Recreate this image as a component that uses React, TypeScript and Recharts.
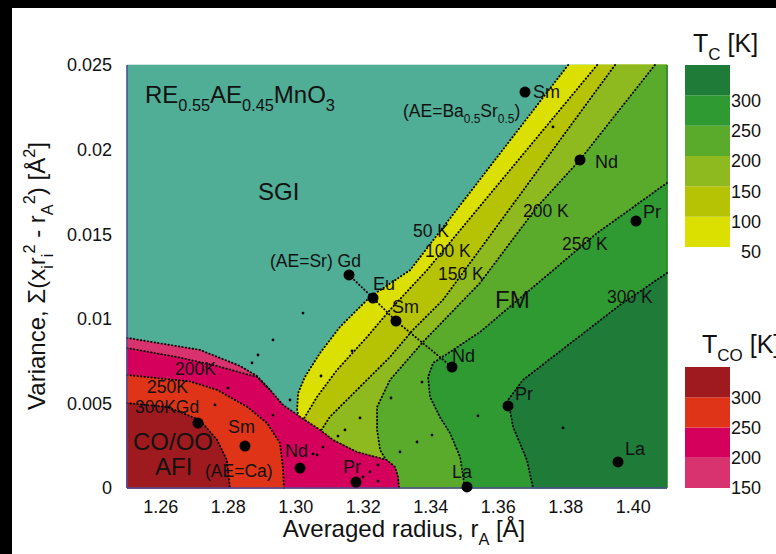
import React from 'react';
import { ScatterChart, Scatter, XAxis, YAxis, BarChart, Bar } from 'recharts';

type Pt = [number, number];

const FONT = '"Liberation Sans", Arial, Helvetica, sans-serif';
const FRAME = '#4d4c96';
const INK = '#111';

// axes
const X_DOMAIN: [number, number] = [1.25, 1.41];
const Y_DOMAIN: [number, number] = [0, 0.025];
const xTicks = [1.26, 1.28, 1.3, 1.32, 1.34, 1.36, 1.38, 1.4];
const yTicks = [0, 0.005, 0.01, 0.015, 0.02, 0.025];
const xMinorTicks = Array.from({ length: 31 }, (_, i) => +(1.255 + i * 0.005).toFixed(3));
const yMinorTicks = Array.from({ length: 24 }, (_, i) => +((i + 1) * 0.001).toFixed(3));

// FM contour lines (T_C), [r_A, variance]
const tc50: Pt[] = [[1.3807, 0.025], [1.3339, 0.01288], [1.322, 0.01129], [1.3131, 0.00952], [1.3072, 0.00798], [1.3027, 0.00656], [1.3007, 0.00561], [1.3004, 0.00461], [1.301, 0.0041]];
const tc100: Pt[] = [[1.3893, 0.025], [1.3389, 0.01288], [1.3279, 0.01052], [1.3211, 0.00892], [1.3122, 0.00697], [1.3063, 0.00538], [1.3021, 0.004]];
const tc150: Pt[] = [[1.3946, 0.025], [1.3436, 0.01111], [1.3347, 0.00934], [1.3279, 0.00774], [1.3181, 0.00579], [1.3101, 0.0042], [1.3072, 0.0033]];
const tc200: Pt[] = [[1.4064, 0.025], [1.3842, 0.01939], [1.3715, 0.01661], [1.3546, 0.01212], [1.3377, 0.00863], [1.3279, 0.00638], [1.3241, 0.00479], [1.3241, 0.00343], [1.325, 0.00225], [1.3272, 0.0015]];
const tc250: Pt[] = [[1.41, 0.01803], [1.3893, 0.01507], [1.3546, 0.00922], [1.3466, 0.00816], [1.3407, 0.00739], [1.3392, 0.00656], [1.3398, 0.00538], [1.3427, 0.0042], [1.3457, 0.00325], [1.3487, 0.00183], [1.3501, 0]];
const tc300: Pt[] = [[1.41, 0.01271], [1.3961, 0.01082], [1.3673, 0.00638], [1.3629, 0.0052], [1.3644, 0.00361], [1.3685, 0.00165], [1.3703, 0]];
const tcLines = [tc50, tc100, tc150, tc200, tc250, tc300];

// CO/OO contour lines (T_CO)
const co150: Pt[] = [[1.25, 0.00887], [1.2716, 0.00816], [1.2835, 0.00721], [1.2885, 0.00662], [1.2924, 0.00579], [1.2962, 0.00491], [1.3013, 0.0042], [1.3072, 0.00343], [1.311, 0.00284], [1.3181, 0.00213], [1.327, 0.00165], [1.3294, 0.00124], [1.3303, 0.00065], [1.3306, 0]];
const co200: Pt[] = [[1.25, 0.00827], [1.2648, 0.00774], [1.2767, 0.00721], [1.285, 0.00674], [1.2885, 0.00656], [1.2924, 0.00579]];
const co250: Pt[] = [[1.25, 0.00668], [1.2687, 0.0063], [1.2767, 0.0058], [1.2856, 0.0048], [1.2915, 0.00384], [1.2953, 0.00266], [1.2962, 0.00124], [1.2965, 0]];
const co300: Pt[] = [[1.25, 0.00502], [1.2619, 0.00479], [1.2716, 0.00402], [1.2767, 0.00284], [1.2796, 0.00165], [1.2805, 0]];

// colour scales
const tcLevels = [50, 100, 150, 200, 250, 300, 350];
const tcTicks = [50, 100, 150, 200, 250, 300];
const tcColors = ['#dbe001', '#b6c304', '#8eba20', '#5aab2c', '#2f9a31', '#1e7b38'];
const coLevels = [150, 200, 250, 300, 350];
const coTicks = [150, 200, 250, 300];
const coColors = ['#d8336e', '#d5005c', '#df3418', '#9f1a1e'];
const SGI_COLOR = '#50ad96';

// compounds
const baSrNames = ['Sm', 'Nd', 'Pr'];
const baSrX = [1.36793, 1.38422, 1.40081];
const baSrY = [0.0234, 0.01939, 0.01578];
const srNames = ['Gd', 'Eu', 'Sm', 'Nd', 'Pr', 'La'];
const srX = [1.31578, 1.32289, 1.3297, 1.3463, 1.36289, 1.39548];
const srY = [0.01259, 0.01123, 0.00987, 0.00715, 0.00485, 0.00154];
const caNames = ['Gd', 'Sm', 'Nd', 'Pr', 'La'];
const caX = [1.27104, 1.28496, 1.30126, 1.31785, 1.35074];
const caY = [0.00384, 0.00248, 0.00118, 0.00035, 0.00006];

// measured grid points (small dots)
const gridX = [1.30215, 1.29326, 1.28881, 1.28704, 1.27993, 1.27607, 1.2983, 1.29326, 1.3063, 1.30748, 1.31667, 1.33741, 1.32822, 1.31904, 1.31459, 1.31252, 1.33593, 1.34037, 1.33089, 1.354, 1.30807, 1.30511, 1.322, 1.32437, 1.32437, 1.31993, 1.37919, 1.37622];
const gridY = [0.01034, 0.00875, 0.00786, 0.00739, 0.00591, 0.00491, 0.0052, 0.00431, 0.00195, 0.00662, 0.0081, 0.00626, 0.00532, 0.00414, 0.00343, 0.00307, 0.00272, 0.00313, 0.00213, 0.00426, 0.00242, 0.00201, 0.00095, 0.00136, 0.00041, 0.00065, 0.00355, 0.02134];

// text annotations: [text, r_A, variance] (left end of baseline)
const phaseLabels: [string, number, number][] = [
  ['RE_{0.55}AE_{0.45}MnO_{3}', 1.25533, 0.02275],
  ['SGI', 1.28881, 0.01702],
  ['FM', 1.35904, 0.01064],
  ['CO/OO', 1.25178, 0.00225],
  ['AFI', 1.2583, 0.00077],
];
const noteLabels: [string, number, number][] = [
  ['(AE=Ba_{0.5}Sr_{0.5})', 1.33178, 0.02193],
  ['(AE=Sr) Gd', 1.29237, 0.01306],
  ['(AE=Ca)', 1.27311, 0.00065],
];
const pointLabels: [string, number, number][] = [
  ['Sm', 1.3703, 0.02305], ['Nd', 1.38867, 0.01891], ['Pr', 1.40289, 0.01596],
  ['Eu', 1.32289, 0.0117], ['Sm', 1.32852, 0.01034], ['Nd', 1.3463, 0.00745],
  ['Pr', 1.36496, 0.0052], ['La', 1.39756, 0.00195], ['La', 1.3463, 0.00059],
  ['Sm', 1.27993, 0.00325], ['Nd', 1.29681, 0.00183], ['Pr', 1.314, 0.00089],
];
const contourLabels: [string, number, number][] = [
  ['50 K', 1.33474, 0.01483], ['100 K', 1.3383, 0.01365], ['150 K', 1.34215, 0.01229],
  ['200 K', 1.36733, 0.01602], ['250 K', 1.37889, 0.01407], ['300 K', 1.39222, 0.01093],
  ['200K', 1.26422, 0.00668], ['250K', 1.25593, 0.00561], ['300KGd', 1.25237, 0.00443],
];

const xy = (pts: Pt[]) => pts.map(([x, y]) => ({ x, y }));
const zipXY = (xs: number[], ys: number[]) => xs.map((x, i) => ({ x, y: ys[i] }));
const labelData = (rows: [string, number, number][]) => rows.map(([t, x, y]) => ({ x, y, t }));

// close a T_C band toward the lower right corner
const closeBand = (line: Pt[]): Pt[] => [...line, [line[line.length - 1][0], 0], [X_DOMAIN[1], 0], [X_DOMAIN[1], Y_DOMAIN[1]]];
// close a T_CO region toward the lower left corner
const closeCO = (line: Pt[]): Pt[] => [...line, [X_DOMAIN[0], 0]];
const co200Region: Pt[] = [...co200, ...co150.filter((p) => p[0] > co200[co200.length - 1][0]), [X_DOMAIN[0], 0]];
const plotBox: Pt[] = [[X_DOMAIN[0], 0], [X_DOMAIN[0], Y_DOMAIN[1]], [X_DOMAIN[1], Y_DOMAIN[1]], [X_DOMAIN[1], 0]];
const frameCorners = xy([[X_DOMAIN[0], 0], [X_DOMAIN[1], Y_DOMAIN[1]]]);

function rich(s: string, size: number) {
  const out: React.ReactNode[] = [];
  const re = /([_^])\{([^}]*)\}/g;
  let last = 0;
  let cur = 0;
  let k = 0;
  let m: RegExpExecArray | null;
  const push = (txt: string, off: number, fs: number) => {
    out.push(
      <tspan key={k++} dy={off - cur} fontSize={fs}>
        {txt}
      </tspan>
    );
    cur = off;
  };
  while ((m = re.exec(s))) {
    if (m.index > last) push(s.slice(last, m.index), 0, size);
    push(m[2], m[1] === '_' ? size * 0.33 : -size * 0.42, size * 0.68);
    last = re.lastIndex;
  }
  if (last < s.length) push(s.slice(last), 0, size);
  return out;
}

const noShape = () => <g />;
const fillPath = (color: string) => (props: any) => {
  const pts: { x: number; y: number }[] = props.points || [];
  if (!pts.length) return <g />;
  const d = pts.map((p, i) => `${i ? 'L' : 'M'}${p.x},${p.y}`).join(' ') + ' Z';
  return <path d={d} fill={color} stroke={color} strokeWidth={0.6} />;
};
const dotted = { stroke: '#000', strokeWidth: 1.9, strokeDasharray: '0.4 3.1', strokeLinecap: 'round', fill: 'none' };
const dot = (r: number) => (p: any) => <circle cx={p.cx} cy={p.cy} r={r} fill="#000" />;
const textShape = (size: number) => (p: any) => (
  <text x={p.cx} y={p.cy} fontSize={size} fill={INK} fontFamily={FONT}>
    {rich(p.payload.t, size)}
  </text>
);

function PhaseDiagram() {
  return (
    <ScatterChart width={776} height={554} margin={{ top: 65, right: 109, bottom: 20, left: 57 }}>
      <Scatter data={xy(plotBox)} line={fillPath(SGI_COLOR)} shape={noShape} isAnimationActive={false} />
      {tcLines.map((l, i) => (
        <Scatter key={'tf' + i} data={xy(closeBand(l))} line={fillPath(tcColors[i])} shape={noShape} isAnimationActive={false} />
      ))}
      {tcLines.map((l, i) => (
        <Scatter key={'tl' + i} data={xy(l)} line={dotted} shape={noShape} isAnimationActive={false} />
      ))}
      <Scatter data={xy(closeCO(co150))} line={fillPath(coColors[0])} shape={noShape} isAnimationActive={false} />
      <Scatter data={xy(co200Region)} line={fillPath(coColors[1])} shape={noShape} isAnimationActive={false} />
      <Scatter data={xy(closeCO(co250))} line={fillPath(coColors[2])} shape={noShape} isAnimationActive={false} />
      <Scatter data={xy(closeCO(co300))} line={fillPath(coColors[3])} shape={noShape} isAnimationActive={false} />
      {[co150, co200, co250, co300].map((l, i) => (
        <Scatter key={'cl' + i} data={xy(l)} line={dotted} shape={noShape} isAnimationActive={false} />
      ))}

      <XAxis
        dataKey="x" type="number" domain={X_DOMAIN} ticks={xTicks} height={46}
        tickFormatter={(v: number) => v.toFixed(2)} tickLine={false} tickSize={6} tickMargin={6}
        axisLine={{ stroke: FRAME, strokeWidth: 1.5 }} tick={{ fontSize: 18, fill: INK }} zIndex={650}
      />
      <YAxis
        dataKey="y" type="number" domain={Y_DOMAIN} ticks={yTicks} width={70}
        tickLine={false} tickSize={6} tickMargin={9}
        axisLine={{ stroke: FRAME, strokeWidth: 1.5 }} tick={{ fontSize: 18, fill: INK }} zIndex={650}
      />
      <XAxis xAxisId="xt" orientation="top" mirror height={0} dataKey="x" type="number" domain={X_DOMAIN}
        ticks={xMinorTicks} tick={false} tickSize={6} tickLine={{ stroke: FRAME }} axisLine={{ stroke: FRAME, strokeWidth: 1.5 }} zIndex={650} />
      <XAxis xAxisId="xb" orientation="bottom" mirror height={0} dataKey="x" type="number" domain={X_DOMAIN}
        ticks={xMinorTicks} tick={false} tickSize={6} tickLine={{ stroke: FRAME }} axisLine={false} zIndex={650} />
      <YAxis yAxisId="yr" orientation="right" mirror width={0} dataKey="y" type="number" domain={Y_DOMAIN}
        ticks={yMinorTicks} tick={false} tickSize={6} tickLine={{ stroke: FRAME }} axisLine={{ stroke: FRAME, strokeWidth: 1.5 }} zIndex={650} />
      <YAxis yAxisId="yl" orientation="left" mirror width={0} dataKey="y" type="number" domain={Y_DOMAIN}
        ticks={yMinorTicks} tick={false} tickSize={6} tickLine={{ stroke: FRAME }} axisLine={false} zIndex={650} />
      <Scatter xAxisId="xt" yAxisId="yr" data={frameCorners} shape={noShape} isAnimationActive={false} />
      <Scatter xAxisId="xb" yAxisId="yl" data={frameCorners} shape={noShape} isAnimationActive={false} />

      <Scatter data={zipXY(srX, srY).slice(0, 4)} line={dotted} shape={noShape} isAnimationActive={false} zIndex={700} />
      <Scatter data={zipXY(gridX, gridY)} shape={dot(1.4)} isAnimationActive={false} zIndex={700} />
      <Scatter name="AE=Ba0.5Sr0.5" data={zipXY(baSrX, baSrY)} shape={dot(5.5)} isAnimationActive={false} zIndex={700} />
      <Scatter name="AE=Sr" data={zipXY(srX, srY)} shape={dot(5.5)} isAnimationActive={false} zIndex={700} />
      <Scatter name="AE=Ca" data={zipXY(caX, caY)} shape={dot(5.5)} isAnimationActive={false} zIndex={700} />
      <Scatter data={labelData(phaseLabels)} shape={textShape(24)} isAnimationActive={false} zIndex={700} />
      <Scatter data={labelData(noteLabels)} shape={textShape(17.5)} isAnimationActive={false} zIndex={700} />
      <Scatter data={labelData(pointLabels)} shape={textShape(18)} isAnimationActive={false} zIndex={700} />
      <Scatter data={labelData(contourLabels)} shape={textShape(17.5)} isAnimationActive={false} zIndex={700} />
    </ScatterChart>
  );
}

function ColorBar({ levels, colors, ticks, plotHeight, dy }: { levels: number[]; colors: string[]; ticks: number[]; plotHeight: number; dy: number }) {
  const row: Record<string, number | string> = { name: 'T', base: levels[0] };
  colors.forEach((_, i) => {
    row['s' + i] = levels[i + 1] - levels[i];
  });
  return (
    <BarChart width={96} height={plotHeight + 32} data={[row]} margin={{ top: 12, right: 0, bottom: 20, left: 0 }} barCategoryGap={0}>
      <XAxis dataKey="name" hide />
      <YAxis
        orientation="right" width={51} type="number" domain={[levels[0], levels[levels.length - 1]]} allowDataOverflow
        ticks={ticks} interval={0} tickLine={false} axisLine={false} tickSize={0} tickMargin={0}
        tick={(p: any) => (
          <text x={p.x + 31} y={p.y + dy} dy="0.35em" fontSize={18} fill={INK} fontFamily={FONT} textAnchor="end">
            {p.payload.value}
          </text>
        )}
      />
      <Bar dataKey="base" stackId="c" fill="transparent" isAnimationActive={false} />
      {colors.map((c, i) => (
        <Bar key={i} dataKey={'s' + i} stackId="c" fill={c} isAnimationActive={false} />
      ))}
    </BarChart>
  );
}

export default function App() {
  return (
    <div style={{ position: 'absolute', left: 0, top: 0, width: 776, height: 554, background: '#000', overflow: 'hidden', fontFamily: FONT }}>
      <div style={{ position: 'absolute', left: 12, top: 8, right: 0, bottom: 0, background: '#fff' }} />
      <div style={{ position: 'absolute', left: 0, top: 0 }}>
        <PhaseDiagram />
      </div>
      <div style={{ position: 'absolute', left: 685, top: 53 }}>
        <ColorBar levels={tcLevels} colors={tcColors} ticks={tcTicks} plotHeight={182} dy={5} />
      </div>
      <div style={{ position: 'absolute', left: 685, top: 355 }}>
        <ColorBar levels={coLevels} colors={coColors} ticks={coTicks} plotHeight={121} dy={0} />
      </div>
      <svg width={776} height={554} style={{ position: 'absolute', left: 0, top: 0, pointerEvents: 'none' }} fontFamily={FONT}>
        <text x={45} y={276} fontSize={24} fill={INK} textAnchor="middle" transform="rotate(-90 45 276)">
          {rich('Variance, Σ(x_{i}r_{i}^{2} - r_{A}^{2}) [Å^{2}]', 24)}
        </text>
        <text x={404} y={537} fontSize={24} fill={INK} textAnchor="middle">
          {rich('Averaged radius, r_{A} [Å]', 24)}
        </text>
        <text x={693} y={52} fontSize={25} fill={INK}>
          {rich('T_{C} [K]', 25)}
        </text>
        <text x={702} y={353} fontSize={25} fill={INK}>
          {rich('T_{CO} [K]', 25)}
        </text>
      </svg>
    </div>
  );
}
